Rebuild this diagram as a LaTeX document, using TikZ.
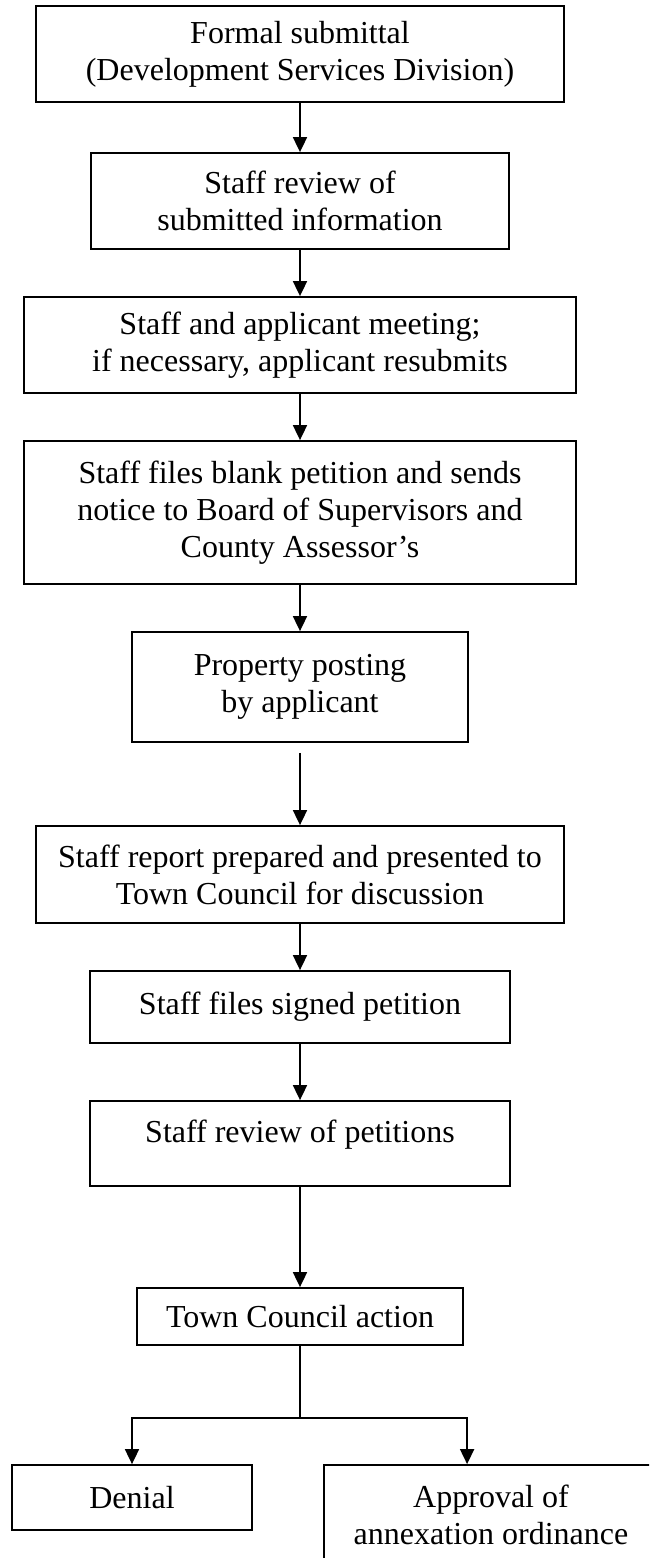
\documentclass[tikz,border=0pt]{standalone}
\usepackage{fontspec}
\setmainfont{Liberation Serif}
\usetikzlibrary{arrows.meta,calc}
\begin{document}
\begin{tikzpicture}[x=0.5pt,y=-0.5pt,
  box/.style={draw,line width=0.9pt,rectangle,inner sep=0pt,align=center,
    font=\fontsize{16}{18.5}\selectfont},
  arr/.style={line width=0.9pt,-{Triangle[length=7.5pt,width=7pt]}},
  conn/.style={line width=0.9pt}]
\path[use as bounding box] (0,0) rectangle (649,1558);
\clip (0,0) rectangle (649,1558);
\node[box,minimum width=264pt,minimum height=48pt] (b1) at (300,54)
  {Formal submittal\\(Development Services Division)};
\node[box,minimum width=209pt,minimum height=48pt] (b2) at (300,201)
  {Staff review of\\submitted information};
\node[box,minimum width=276pt,minimum height=48pt] (b3) at (300,345)
  {Staff and applicant meeting;\\if necessary, applicant resubmits};
\node[box,minimum width=276pt,minimum height=71.5pt] (b4) at (300,512.5)
  {Staff files blank petition and sends\\notice to Board of Supervisors and\\County Assessor’s};
\node[box,minimum width=168pt,minimum height=55pt] (b5) at (300,687)
  {Property posting\\by applicant};
\node[box,minimum width=264pt,minimum height=48.5pt] (b6) at (300,874.5)
  {Staff report prepared and presented to\\Town Council for discussion};
\node[box,minimum width=210pt,minimum height=36pt] (b7) at (300,1007)
  {Staff files signed petition};
\node[box,minimum width=210pt,minimum height=42.5pt,text depth=12.5pt] (b8) at (300,1143.5)
  {Staff review of petitions};
\node[box,minimum width=163pt,minimum height=28.5pt] (b9) at (300,1316.5)
  {Town Council action};
\node[box,minimum width=120pt,minimum height=32.5pt] (den) at (132,1497.5)
  {Denial};
\node[box,minimum width=167pt,minimum height=50pt] (app) at (491,1515)
  {Approval of\\annexation ordinance};
\draw[arr] (b1) -- (b2);
\draw[arr] (b2) -- (b3);
\draw[arr] (b3) -- (b4);
\draw[arr] (b4) -- (b5);
\coordinate (s6) at ($(b5.south)+(0,10)$);
\draw[arr] (s6) -- (b6);
\draw[arr] (b6) -- (b7);
\draw[arr] (b7) -- (b8);
\draw[arr] (b8) -- (b9);
\coordinate (j) at (300,1418);
\coordinate (appin) at ($(app.north west)+(144,0)$);
\draw[conn] (b9.south) -- (j);
\draw[arr] (j) -| (den.north);
\draw[arr] (j) -| (appin);
\end{tikzpicture}
\end{document}
